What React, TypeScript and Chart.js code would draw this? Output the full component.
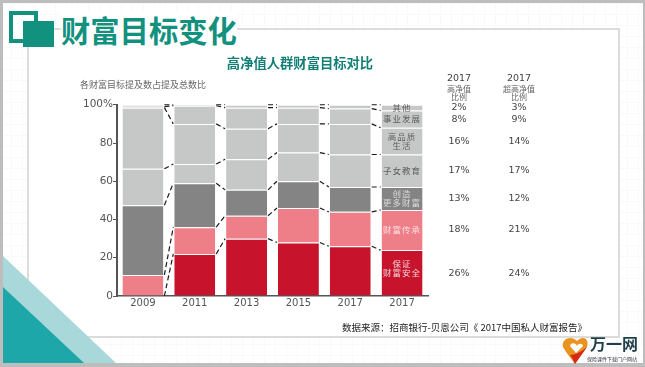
import React, { useEffect, useRef } from "react";
import { Chart, registerables } from "chart.js";

Chart.register(...registerables);

const years = ["2009", "2011", "2013", "2015", "2017", "2017"];
const wealthSafety = [0, 22, 30, 28, 26, 24];
const inheritance = [11, 14, 12, 18, 18, 21];
const moreWealth = [36.5, 23, 13.5, 14, 13, 12];
const education = [19, 10, 16, 15, 17, 17];
const quality = [32, 21, 16, 15, 16, 14];
const career = [0.5, 9.5, 11, 8.5, 8, 9];
const other = [1, 0.5, 1.5, 1.5, 2, 3];

const seriesNames = ["保证财富安全", "财富传承", "创造更多财富", "子女教育", "高品质生活", "事业发展", "其他"];
const barLabels = [["保证", "财富安全"], ["财富传承"], ["创造", "更多财富"], ["子女教育"], ["高品质", "生活"], ["事业发展"], ["其他"]];
const labelColors = ["#f4d5d8", "#fbe0e3", "#dcdcdc", "#5c5c5c", "#5c5c5c", "#5c5c5c", "#5c5c5c"];
const seriesValues = [wealthSafety, inheritance, moreWealth, education, quality, career, other];
const seriesColors = ["#c8132c", "#ee7f88", "#848484", "#c6c8c7", "#c6c8c7", "#c6c8c7", "#c6c8c7"];

const highNetHeader = ["2017", "高净值", "比例"];
const ultraHighHeader = ["2017", "超高净值", "比例"];
const highNetShare = ["26%", "18%", "13%", "17%", "16%", "8%", "2%"];
const ultraHighShare = ["24%", "21%", "12%", "17%", "14%", "9%", "3%"];

const cjk = '"Noto Sans CJK SC", sans-serif';
const latin = '"DejaVu Sans", sans-serif';

const annotate = {
  id: "annotate",
  afterDatasetsDraw(chart: any) {
    const { ctx, scales } = chart;
    const y = scales.y;
    const metas = chart.data.datasets.map((_: any, i: number) => chart.getDatasetMeta(i));
    ctx.save();
    ctx.strokeStyle = "#1a1a1a";
    ctx.lineWidth = 1.2;
    ctx.setLineDash([5, 3]);
    metas.forEach((meta: any) => {
      for (let i = 0; i < years.length - 1; i++) {
        const a = meta.data[i];
        const b = meta.data[i + 1];
        ctx.beginPath();
        ctx.moveTo(a.x + a.width / 2 + 1, a.y);
        ctx.lineTo(b.x - b.width / 2 - 1, b.y);
        ctx.stroke();
      }
    });
    ctx.setLineDash([]);
    const lastIdx = years.length - 1;
    const lastX = metas[0].data[lastIdx].x;
    let cum = 0;
    seriesValues.forEach((vals, s) => {
      const mid = cum + vals[lastIdx] / 2;
      cum += vals[lastIdx];
      const py = y.getPixelForValue(mid);
      const lines = barLabels[s];
      const shift = s === 0 ? -5 : 0;
      ctx.textAlign = "center";
      ctx.textBaseline = "middle";
      ctx.font = `8.5px ${cjk}`;
      (ctx as any).letterSpacing = "1px";
      ctx.fillStyle = labelColors[s];
      lines.forEach((t, k) => ctx.fillText(t, lastX, py + shift + (k - (lines.length - 1) / 2) * 9.5));
      (ctx as any).letterSpacing = "0px";
      ctx.font = `9.5px ${latin}`;
      ctx.fillStyle = "#444";
      ctx.fillText(highNetShare[s], 459, py);
      ctx.fillText(ultraHighShare[s], 519, py);
    });
    [[highNetHeader, 459], [ultraHighHeader, 519]].forEach(([h, x]: any) => {
      ctx.fillStyle = "#444";
      ctx.font = `9.5px ${latin}`;
      ctx.fillText(h[0], x, 79);
      ctx.font = `8px ${cjk}`;
      ctx.fillStyle = "#666";
      ctx.fillText(h[1], x, 88.5);
      ctx.fillText(h[2], x, 96.5);
    });
    ctx.restore();
  },
};

export default function App() {
  const ref = useRef<HTMLCanvasElement>(null);
  useEffect(() => {
    const chart = new Chart(ref.current!, {
      type: "bar",
      data: {
        labels: years,
        datasets: seriesValues.map((data, i) => ({
          label: seriesNames[i],
          data,
          backgroundColor: seriesColors[i],
          borderColor: "#ffffff",
          borderWidth: { top: 1 },
          borderSkipped: false,
          barPercentage: 0.79,
          categoryPercentage: 1,
        })),
      },
      options: {
        responsive: false,
        animation: false,
        layout: { padding: { left: 80, right: 125, top: 55, bottom: 57 } },
        plugins: {
          legend: { display: false },
          tooltip: { enabled: false },
          title: {
            display: true,
            text: "高净值人群财富目标对比",
            color: "#127f76",
            font: { family: cjk, size: 13.3, weight: "bold" },
            padding: { top: 0, bottom: 5 },
          },
          subtitle: {
            display: true,
            text: "各财富目标提及数占提及总数比",
            align: "start",
            color: "#666",
            font: { family: cjk, size: 9 },
            padding: { top: 3, bottom: 15 },
          },
        },
        scales: {
          x: {
            stacked: true,
            grid: { display: false, drawTicks: false, tickLength: 0 },
            border: { color: "#555", width: 1.5 },
            ticks: { color: "#555", font: { family: latin, size: 10 }, padding: 1, maxRotation: 0 },
          },
          y: {
            stacked: true,
            min: 0,
            max: 100,
            border: { color: "#555", width: 2 },
            grid: { display: true, drawOnChartArea: false, drawTicks: true, tickLength: 4, color: "#555" },
            afterFit: (s: any) => { s.width = 37; },
            ticks: {
              stepSize: 20,
              color: "#555",
              font: { family: latin, size: 10.5 },
              padding: 0,
              callback: (v: any) => (v === 100 ? "100%" : v),
            },
          },
          spacer: {
            position: "right",
            display: true,
            grid: { display: false },
            border: { display: false },
            ticks: { display: false },
            afterFit: (s: any) => { s.width = 92; },
          },
        },
      } as any,
      plugins: [annotate],
    });
    return () => chart.destroy();
  }, []);

  return (
    <div style={{ position: "fixed", left: 0, top: 0, width: 645, height: 367, overflow: "hidden",
      background: "repeating-linear-gradient(0deg,#f9f9f9 0 1px,transparent 1px 11px),repeating-linear-gradient(90deg,#f9f9f9 0 1px,transparent 1px 11px),#fff" }}>
      <div style={{ position: "absolute", left: 0, top: 0, width: 645, height: 367, boxSizing: "border-box", borderStyle: "solid", borderColor: "#bdbdbd", borderWidth: "3px 2px 4px 3px" }} />
      <div style={{ position: "absolute", left: 27, top: 28, width: 593, height: 310, border: "2px solid #dcdcdc", boxSizing: "border-box", background: "#fff" }} />
      <svg width={645} height={367} style={{ position: "absolute", left: 0, top: 0 }}>
        <polygon points="3,256 3,363 116,363" fill="#a9d8da" />
        <polygon points="3,287 3,363 84,363" fill="#1ea7a8" />
        <rect x={11} y={13} width={25} height={28} fill="#fff" stroke="#13917f" strokeWidth={4} />
        <rect x={23} y={21} width={31} height={26} fill="#13917f" />
      </svg>
      <div style={{ position: "absolute", left: 61, top: 11, fontFamily: cjk, fontWeight: 700, fontSize: 29.3, lineHeight: "36px", color: "#13917f", whiteSpace: "nowrap", background: "#fff" }}>财富目标变化</div>
      <canvas ref={ref} width={645} height={367} style={{ position: "absolute", left: 0, top: 0 }} />
      <div style={{ position: "absolute", left: 342, top: 320, fontFamily: cjk, fontSize: 9.5, color: "#222", whiteSpace: "nowrap" }}>数据来源：招商银行-贝恩公司《 2017中国私人财富报告》</div>
      <div style={{ position: "absolute", left: 590, top: 333, fontFamily: cjk, fontWeight: 700, fontSize: 16, lineHeight: "20px", color: "#1f3f4a", whiteSpace: "nowrap" }}>万一网</div>
      <div style={{ position: "absolute", left: 587, top: 355, fontFamily: cjk, fontSize: 5, lineHeight: "7px", color: "#334", whiteSpace: "nowrap" }}>保险课件下载门户网站</div>
      <svg width={645} height={367} style={{ position: "absolute", left: 0, top: 0 }}>
        <path d="M563 347 C561 338 572 335 577 341 C582 335 590 338 587 347 L575 364 C571 358 566 353 563 347Z" fill="#e8941f" />
        <path d="M587 347 L575 364 C573 360 572 357 570 355 C576 355 582 351 587 347Z" fill="#d42a1e" />
        <path d="M570 346 C571 342 576 343 577 346 C578 343 583 343 583 346 L576 353Z" fill="#fff" />
      </svg>
    </div>
  );
}
